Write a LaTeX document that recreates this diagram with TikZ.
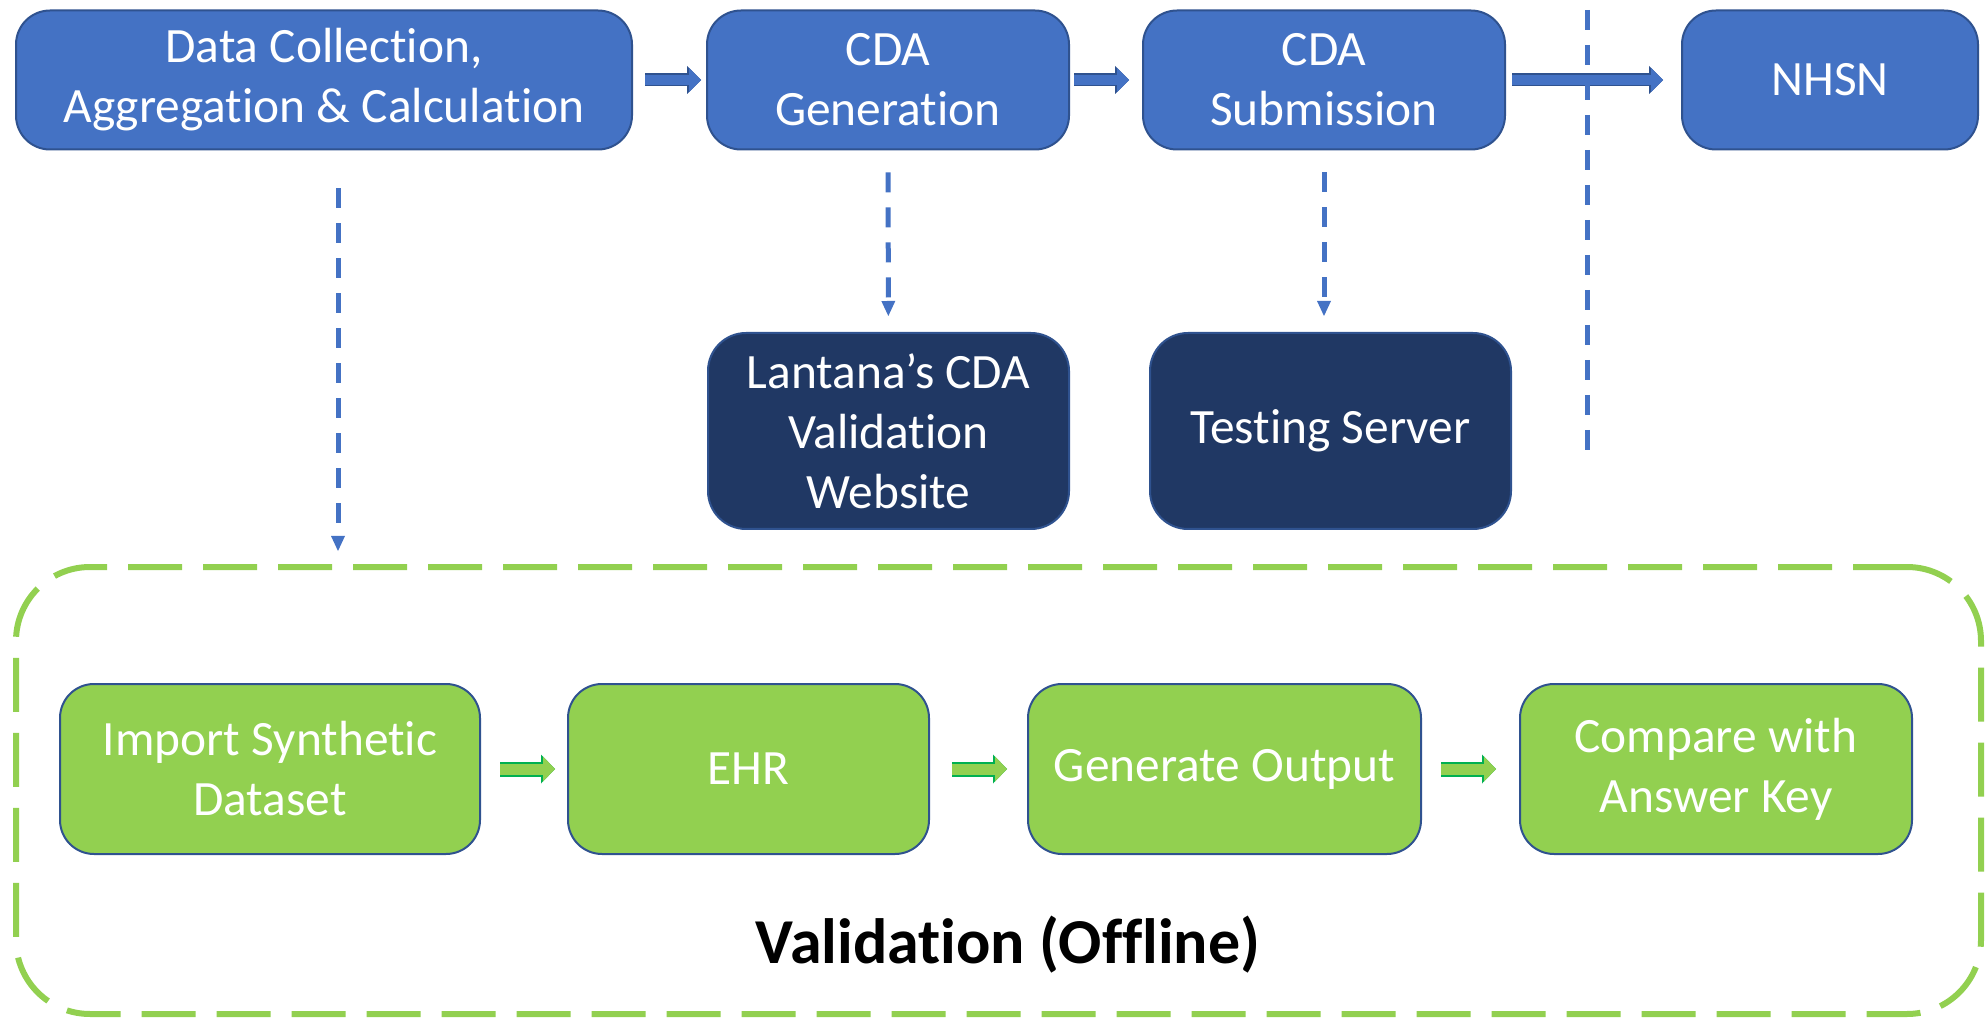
\documentclass[tikz,border=0pt]{standalone}
\usepackage{fontspec}
\setmainfont[Ligatures=NoCommon]{Carlito}
\usetikzlibrary{arrows.meta}
\definecolor{boxblue}{HTML}{4472C4}
\definecolor{edgeblue}{HTML}{2F528F}
\definecolor{navyblue}{HTML}{203864}
\definecolor{leafgreen}{HTML}{92D050}
\definecolor{arrowgreen}{HTML}{00B050}
\tikzset{
  stage/.style={draw=edgeblue, fill=boxblue, line width=1pt, rounded corners=17pt,
    text=white, align=center, inner sep=0pt, font=\fontsize{24.7}{30}\selectfont},
  checker/.style={stage, fill=navyblue, rounded corners=19pt},
  offline/.style={stage, fill=leafgreen, minimum height=85pt},
  blockarrow/.style={draw=boxblue, line width=5pt,
    -{Triangle[length=6pt,width=12pt,line width=0pt]},
    preaction={draw=edgeblue, line width=6.5pt, -{Triangle[length=7pt,width=14pt,line width=0pt]}}},
  greenarrow/.style={draw=leafgreen, line width=5.5pt,
    -{Triangle[length=6pt,width=12.5pt,line width=0pt]},
    preaction={draw=arrowgreen, line width=7.5pt, -{Triangle[length=7pt,width=14.5pt,line width=0pt]}}},
  dasharrow/.style={draw=boxblue, line width=2.5pt, dash pattern=on 10pt off 7.5pt,
    -{Triangle[length=7.5pt,width=7pt,line width=0pt]}}
}
\begin{document}
\begin{tikzpicture}[x=0.5pt,y=-0.5pt]
  \useasboundingbox (0,0) rectangle (1987,1021);
  % online path
  \node[stage, minimum width=308pt, minimum height=69.5pt] (data) at (324,80) {Data Collection,\\Aggregation \& Calculation};
  \node[stage, minimum width=181pt, minimum height=69.5pt] (gen) at (888,80) {CDA\\Generation};
  \node[stage, minimum width=181pt, minimum height=69.5pt] (sub) at (1324,80) {CDA\\Submission};
  \node[stage, minimum width=148pt, minimum height=69.5pt] (nhsn) at (1830,80) {NHSN};
  \node[checker, minimum width=180.5pt, minimum height=98pt] (lantana) at (888.5,431) {Lantana’s CDA\\Validation\\Website};
  \node[checker, minimum width=180.5pt, minimum height=98pt] (testing) at (1330.5,431) {Testing Server};
  % offline validation
  \node[draw=leafgreen, line width=3pt, dash pattern=on 27pt off 10.5pt, rounded corners=37pt,
    minimum width=982.5pt, minimum height=223.5pt] (valid) at (998.5,790.5) {};
  \node[offline, minimum width=210pt] (import) at (270,769) {Import Synthetic\\Dataset};
  \node[offline, minimum width=180.5pt] (ehr) at (748.5,769) {EHR};
  \node[offline, minimum width=196.5pt] (genout) at (1224.5,769) {Generate Output};
  \node[offline, minimum width=196pt] (compare) at (1716,769) {Compare with\\Answer Key};
  \node[anchor=base, font=\fontsize{32}{38}\selectfont\bfseries] (title) at (1008,963) {Validation (Offline)};
  % connectors
  \draw[blockarrow, shorten <=6pt, shorten >=2.5pt] (data) -- (gen);
  \draw[blockarrow, shorten <=2pt, shorten >=6.5pt] (gen) -- (sub);
  \draw[blockarrow, shorten <=3pt, shorten >=9pt] (sub) -- (nhsn);
  \draw[greenarrow, shorten <=9.5pt, shorten >=6pt] (import) -- (ehr);
  \draw[greenarrow, shorten <=11pt, shorten >=10pt] (ehr) -- (genout);
  \draw[greenarrow, shorten <=9.5pt, shorten >=11.5pt] (genout) -- (compare);
  \draw[dasharrow, shorten <=19pt, shorten >=6.5pt] ([xshift=7pt]data.south) -- ([xshift=7pt]data.south |- valid.north);
  \draw[dasharrow, shorten <=11pt, shorten >=8pt] (gen) -- (lantana);
  \draw[dasharrow, shorten <=11pt, shorten >=8pt] (sub.south) -- (sub.south |- testing.north);
  % boundary
  \coordinate (divtop) at (1587,10);
  \coordinate (divbot) at (1587,456);
  \draw[draw=boxblue, line width=2.5pt, dash pattern=on 10pt off 7.5pt] (divtop) -- (divbot);
\end{tikzpicture}
\end{document}
